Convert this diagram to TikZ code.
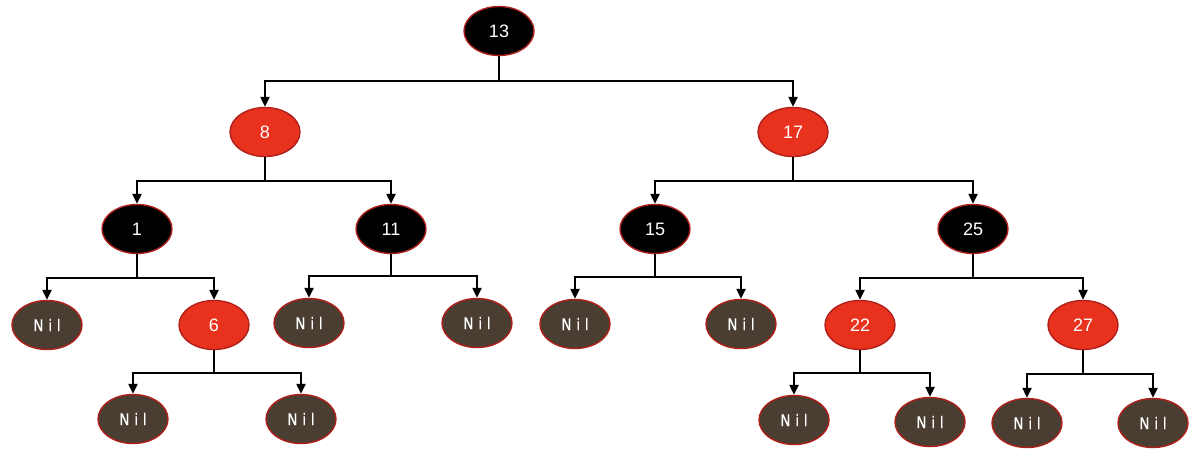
\documentclass[tikz,border=0pt]{standalone}
\usepackage{fontspec}
\setmainfont{Liberation Sans}
\newfontfamily\nilfont[FakeStretch=0.85,FakeBold=0.6]{DejaVu Sans}
\usetikzlibrary{shapes.geometric,arrows.meta}
\definecolor{rbred}{HTML}{E8321E}
\definecolor{rbedge}{HTML}{B0201A}
\definecolor{nilfill}{HTML}{4A3D31}
\newcommand{\nilword}{N\kern2.4pt i\kern2.4pt l}
\tikzset{
  rbnode/.style={ellipse,draw=rbedge,line width=0.7pt,minimum width=35pt,minimum height=24.5pt,inner sep=0pt,text=white,font=\fontsize{9}{10}\selectfont},
  blk/.style={rbnode,fill=black},
  rd/.style={rbnode,fill=rbred},
  nil/.style={rbnode,fill=nilfill,font=\nilfont\fontsize{8}{9}\selectfont},
  link/.style={line width=1.1pt,-{Triangle[width=4.5pt,length=5pt]}}
}
\begin{document}
\begin{tikzpicture}[x=0.5pt,y=-0.5pt]
\useasboundingbox (0,0) rectangle (1197,461);
\node[blk] (n13) at (499,31) {13};
\node[rd] (n8) at (265,132) {8};
\node[rd] (n17) at (793,132) {17};
\node[blk] (n1) at (137,229) {1};
\node[blk] (n11) at (391,229) {11};
\node[blk] (n15) at (655,229) {15};
\node[blk] (n25) at (973,229) {25};
\node[nil] (a1) at (47,325) {\nilword};
\node[rd] (n6) at (214,325) {6};
\node[nil] (a2) at (309,323) {\nilword};
\node[nil] (a3) at (477,323) {\nilword};
\node[nil] (a4) at (575,324) {\nilword};
\node[nil] (a5) at (741,324) {\nilword};
\node[rd] (n22) at (860,325) {22};
\node[rd] (n27) at (1083,325) {27};
\node[nil] (b1) at (133,419) {\nilword};
\node[nil] (b2) at (301,419) {\nilword};
\node[nil] (b3) at (794,420) {\nilword};
\node[nil] (b4) at (930,422) {\nilword};
\node[nil] (b5) at (1027,423) {\nilword};
\node[nil] (b6) at (1153,423) {\nilword};
\foreach \p/\c/\d in {n13/n8/25,n13/n17/25,n8/n1/24,n8/n11/24,n17/n15/24,n17/n25/24,
  n1/a1/24,n1/n6/24,n11/a2/22,n11/a3/22,n15/a4/23,n15/a5/23,n25/n22/24,n25/n27/24,
  n6/b1/23,n6/b2/23,n22/b3/23,n22/b4/23,n27/b5/24,n27/b6/24}
  \draw[link] (\p.south) -- ++(0,\d) -| (\c.north);
\end{tikzpicture}
\end{document}
